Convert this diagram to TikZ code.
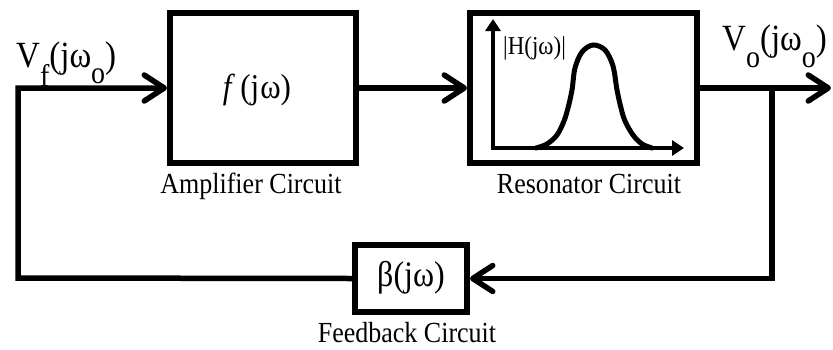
\documentclass[tikz,border=0pt]{standalone}
\usepackage{fontspec}
\setmainfont{Liberation Serif}
\usetikzlibrary{arrows.meta}
\newcommand{\tallx}[1]{\scalebox{1}[1.12]{#1}}
\begin{document}
\begin{tikzpicture}[x=1pt,y=-1pt,
  blk/.style={draw,line width=6pt,inner sep=0pt,rectangle},
  wire/.style={line width=5.5pt},
  chev/.style={-{Straight Barb[length=20pt,width=26pt,round]}},
  axis/.style={line width=4.5pt,-{Triangle[length=12pt,width=15pt]}},
  lbl/.style={font=\fontsize{26}{26}\selectfont,anchor=base,inner sep=0pt},
  big/.style={font=\fontsize{33}{33}\selectfont,anchor=base west,inner sep=0pt}
]
\useasboundingbox (0,0) rectangle (833,349);
% blocks
\node[blk,minimum width=186pt,minimum height=150pt] (amp) at (263,88) {};
\node[blk,minimum width=227pt,minimum height=150pt] (res) at (583.5,88) {};
\node[blk,minimum width=112pt,minimum height=67pt] (fb) at (411,278.5) {};
% block texts
\node[inner sep=0pt,font=\fontsize{31}{31}\selectfont] (ftxt) at (257,90) {\tallx{\textit{f}\,(j\kern1ptω)}};
\node[inner sep=0pt,font=\fontsize{32}{32}\selectfont] (btxt) at (411,278) {\tallx{β(jω)}};
\node[lbl] (ampl) at (251,193) {\tallx{Amplifier Circuit}};
\node[lbl] (resl) at (589,193) {\tallx{Resonator Circuit}};
\node[lbl] (fbl) at (407,342) {\tallx{Feedback Circuit}};
% resonator graph
\coordinate (org) at (493,148);
\coordinate (ytop) at (493,19);
\coordinate (xend) at (684,148);
\draw[axis] (org) -- (ytop);
\draw[axis] ([xshift=-2.25pt]org) -- (xend);
\draw[line width=5pt,line cap=round] plot[smooth,tension=0.55] coordinates {
  (536,148) (547,144) (557,135) (564,121) (568,108) (572,90) (575,68) (582,52)
  (593,45) (605,50) (613,66) (617,90) (621,108) (625,121) (633,135) (642,144) (652,148)};
\node[inner sep=0pt,anchor=west,font=\fontsize{23}{23}\selectfont] (htxt) at (503,48) {\tallx{|H(jω)|}};
% signal labels
\node[big] (vf) at (16,67) {\tallx{V\raisebox{-17pt}{\fontsize{28}{28}\selectfont f}(jω\raisebox{-15pt}{\fontsize{28}{28}\selectfont o})}};
\node[big] (vo) at (722,50) {\tallx{V\raisebox{-16pt}{\fontsize{28}{28}\selectfont o}(jω\raisebox{-16pt}{\fontsize{28}{28}\selectfont o})}};
% wires
\coordinate (lc) at (18,278);
\coordinate (j) at (772,88);
\coordinate (out) at (831,88);
\draw[wire,chev] (fb.west) -- (lc) |- (amp.west);
\draw[wire,chev] (amp.east) -- (res.west);
\draw[wire,chev] (res.east) -- (out);
\draw[wire,chev] (j) |- (fb.east);
\end{tikzpicture}
\end{document}
